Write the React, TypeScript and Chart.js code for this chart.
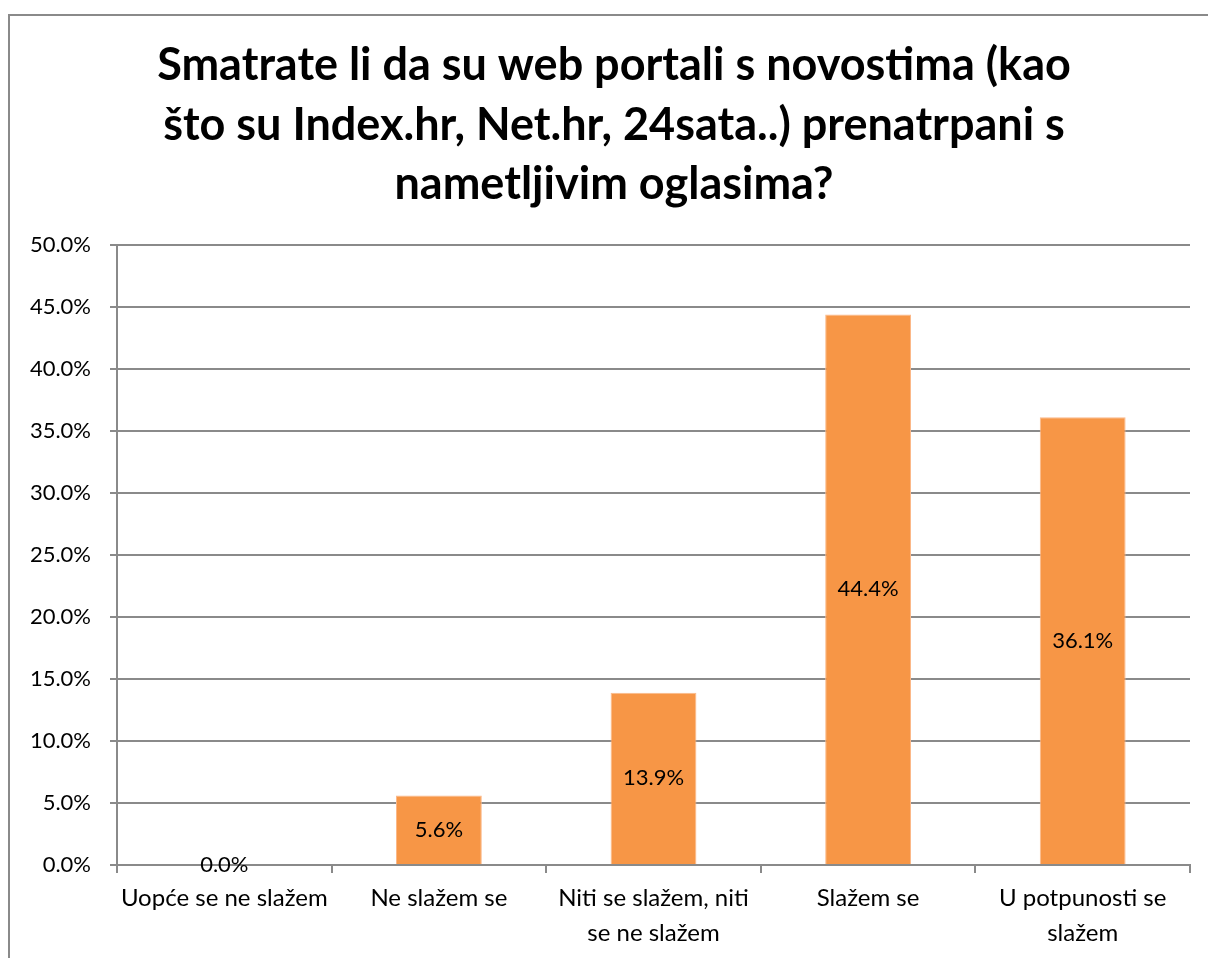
import React, { useEffect, useRef } from "react";
import { Chart, registerables } from "chart.js";

Chart.register(...registerables);

const titleLines = [
  "Smatrate li da su web portali s novostima (kao",
  "što su Index.hr, Net.hr, 24sata..) prenatrpani s",
  "nametljivim oglasima?",
];

const categories: (string | string[])[] = [
  "Uopće se ne slažem",
  "Ne slažem se",
  ["Niti se slažem, niti", "se ne slažem"],
  "Slažem se",
  ["U potpunosti se", "slažem"],
];

const percentValues = [0.0, 5.6, 13.9, 44.4, 36.1];

const yMin = 0;
const yMax = 50;
const yStep = 5;

const FONT = "Lato, 'Open Sans', sans-serif";
const GRID = "#8a8a8a";
const BAR = "#F79646";

const titlePlugin = {
  id: "centeredTitle",
  afterDraw(chart: any) {
    const ctx = chart.ctx;
    ctx.save();
    ctx.font = `bold 45px ${FONT}`;
    ctx.fillStyle = "#000000";
    ctx.textAlign = "center";
    ctx.textBaseline = "alphabetic";
    const cx = 604;
    const firstBaseline = 64;
    const lineGap = 59.5;
    titleLines.forEach((line, i) => {
      ctx.fillText(line, cx, firstBaseline + i * lineGap);
    });
    ctx.restore();
  },
};

const dataLabelPlugin = {
  id: "barValueLabels",
  afterDatasetsDraw(chart: any) {
    const ctx = chart.ctx;
    const meta = chart.getDatasetMeta(0);
    const data = chart.data.datasets[0].data as number[];
    ctx.save();
    ctx.font = `22px ${FONT}`;
    ctx.fillStyle = "#000000";
    ctx.textAlign = "center";
    ctx.textBaseline = "middle";
    meta.data.forEach((el: any, i: number) => {
      const { x, y, base } = el.getProps(["x", "y", "base"], true);
      ctx.fillText(data[i].toFixed(1) + "%", x, (y + base) / 2);
    });
    ctx.restore();
  },
};

export default function App() {
  const ref = useRef<HTMLCanvasElement | null>(null);

  useEffect(() => {
    if (!ref.current) return;
    const chart = new Chart(ref.current, {
      type: "bar",
      data: {
        labels: categories,
        datasets: [
          {
            data: percentValues,
            backgroundColor: BAR,
            borderColor: "#fbb98a",
            borderWidth: 1,
            categoryPercentage: 1,
            barPercentage: 0.4,
          },
        ],
      },
      options: {
        animation: false,
        responsive: false,
        maintainAspectRatio: false,
        layout: { padding: { left: 0, right: 18, top: 229, bottom: 0 } },
        plugins: {
          legend: { display: false },
          tooltip: { enabled: false },
          title: { display: false },
        },
        scales: {
          x: {
            grid: {
              display: true,
              drawOnChartArea: false,
              drawTicks: true,
              tickLength: 8,
              color: GRID,
              lineWidth: 2,
              offset: true,
            },
            border: { display: true, color: GRID, width: 2 },
            ticks: {
              color: "#000000",
              font: { family: FONT, size: 24, lineHeight: "35px" as any },
              padding: 8,
              maxRotation: 0,
              minRotation: 0,
              autoSkip: false,
            },
            afterFit: (scale: any) => {
              scale.height = 93;
            },
          },
          y: {
            min: yMin,
            max: yMax,
            grid: {
              color: GRID,
              lineWidth: 2,
              drawTicks: true,
              tickLength: 7,
            },
            border: { display: true, color: GRID, width: 2 },
            ticks: {
              stepSize: yStep,
              color: "#000000",
              font: { family: FONT, size: 22 },
              padding: 19,
              callback: (v: any) => Number(v).toFixed(1) + "%",
            },
            afterFit: (scale: any) => {
              scale.width = 107;
            },
          },
        },
      },
      plugins: [dataLabelPlugin, titlePlugin],
    });
    return () => chart.destroy();
  }, []);

  return (
    <div
      style={{
        position: "fixed",
        left: 8,
        top: 14,
        width: 1200,
        height: 944,
        borderLeft: "2px solid #8a8a8a",
        borderTop: "2px solid #8a8a8a",
        background: "#ffffff",
        overflow: "hidden",
      }}
    >
      <canvas ref={ref} width={1198} height={942} style={{ display: "block" }} />
    </div>
  );
}
